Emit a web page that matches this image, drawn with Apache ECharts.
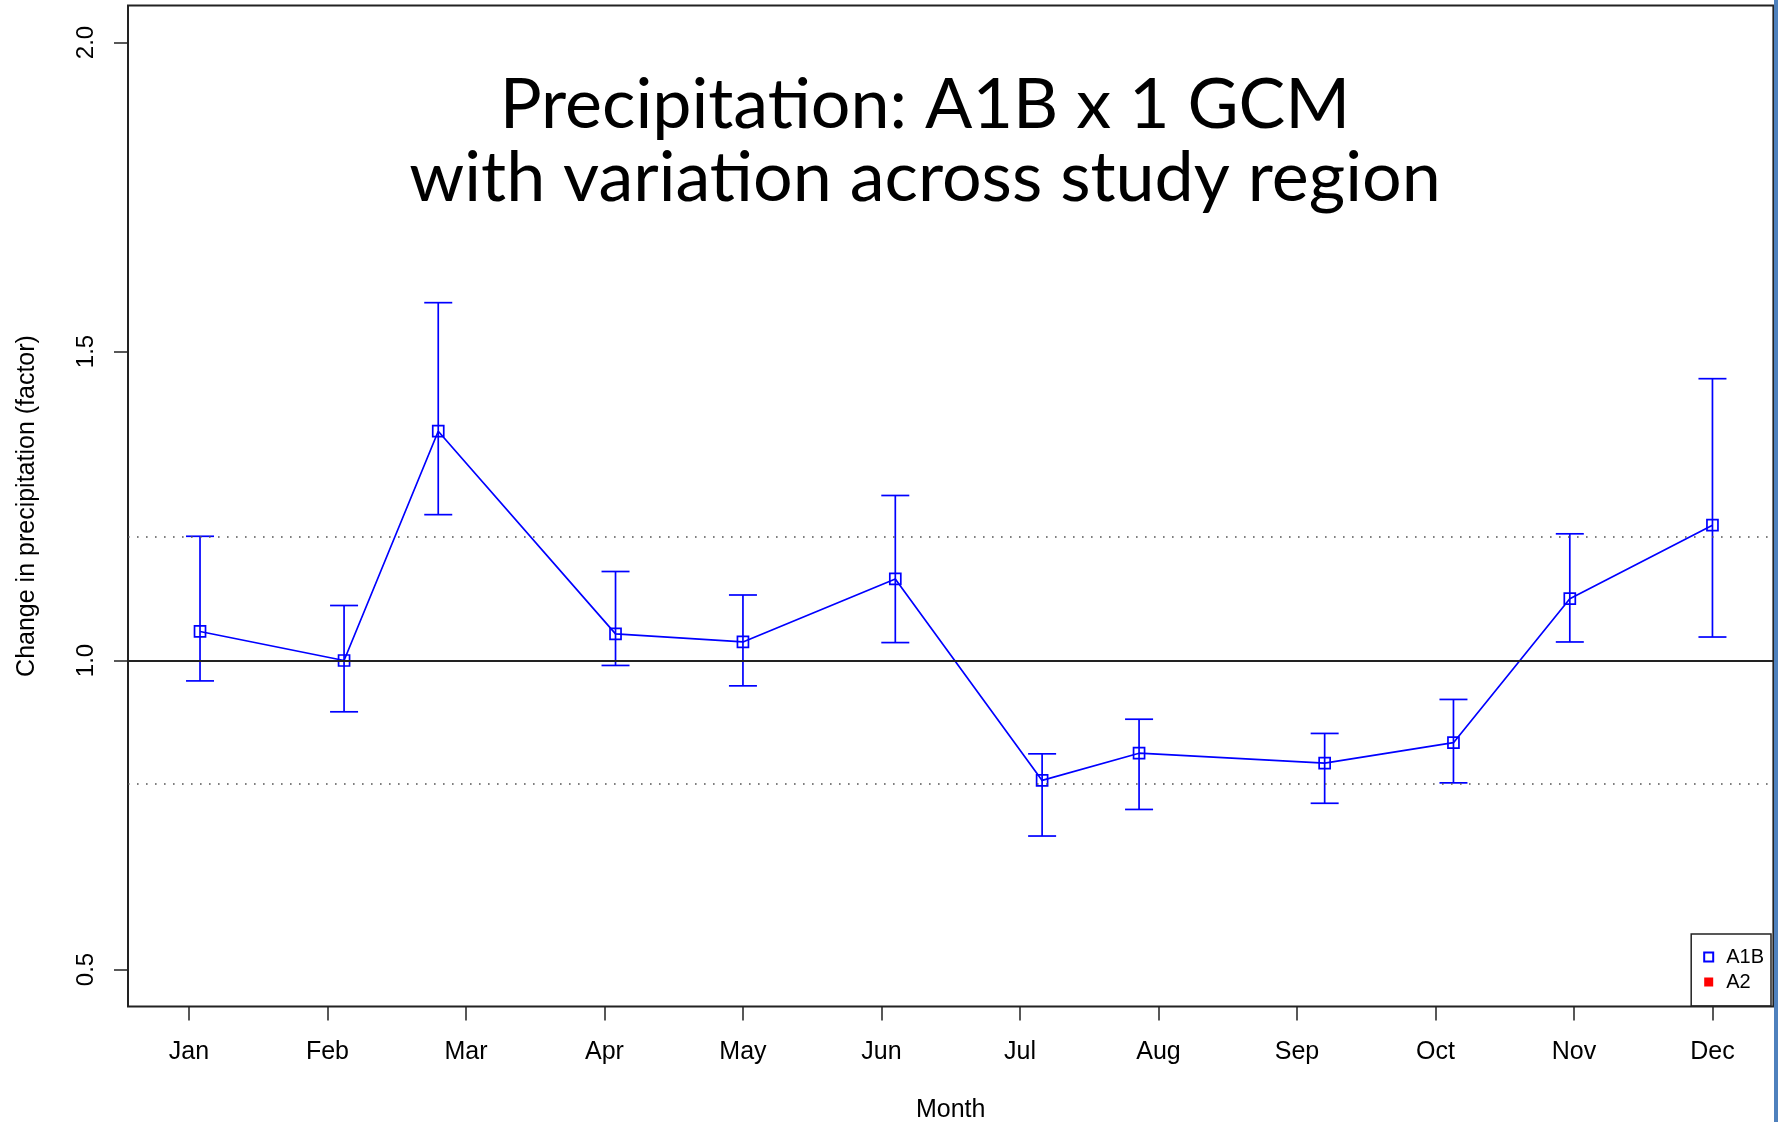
<!DOCTYPE html>
<html>
<head>
<meta charset="utf-8">
<script src="https://cdn.jsdelivr.net/npm/echarts@6/dist/echarts.min.js"></script>
<style>
html,body{margin:0;padding:0;background:#fff;}
#chart{width:1778px;height:1122px;}
</style>
</head>
<body>
<div id="chart"></div>
<script>
// ---- data ----
var monthLabels = ['Jan','Feb','Mar','Apr','May','Jun','Jul','Aug','Sep','Oct','Nov','Dec'];
var monthTicks = [1,2,3,4,5,6,7,8,9,10,11,12];
var xPos   = [1.08, 2.12, 2.80, 4.08, 5.00, 6.10, 7.16, 7.86, 9.20, 10.13, 10.97, 12.00];
var a1bMean = [1.047, 1.000, 1.371, 1.043, 1.030, 1.132, 0.806, 0.850, 0.834, 0.867, 1.100, 1.219];
var a1bLow  = [0.967, 0.917, 1.236, 0.992, 0.959, 1.029, 0.716, 0.759, 0.769, 0.802, 1.030, 1.038];
var a1bHigh = [1.201, 1.089, 1.579, 1.144, 1.106, 1.267, 0.849, 0.905, 0.882, 0.937, 1.205, 1.456];
var yTicks = [0.5, 1.0, 1.5, 2.0];
var refSolid = 1.0;
var refDotted = [1.2, 0.8];
var titleText = 'Precipitation: A1B x 1 GCM\nwith variation across study region';
var xName = 'Month';
var yName = 'Change in precipitation (factor)';

var BLUE = '#0000ff';

var meanData = xPos.map(function (x, i) { return [x, a1bMean[i]]; });
var barData = xPos.map(function (x, i) { return [x, a1bLow[i], a1bHigh[i]]; });

var chart = echarts.init(document.getElementById('chart'), null, {renderer: 'canvas'});

var option = {
  animation: false,
  backgroundColor: '#ffffff',
  title: {
    text: titleText,
    left: 925,
    top: 69,
    textAlign: 'center',
    padding: 0,
    textStyle: {
      fontFamily: 'Lato',
      fontWeight: 'normal',
      fontSize: 70,
      lineHeight: 73,
      color: '#000'
    }
  },
  legend: {
    orient: 'vertical',
    right: 7,
    bottom: 116,
    data: [
      {name: 'A1B', icon: 'rect', itemStyle: {color: '#ffffff', borderColor: BLUE, borderWidth: 2}},
      {name: 'A2', icon: 'rect', itemStyle: {color: '#ff0000', borderWidth: 0}}
    ],
    itemWidth: 9,
    itemHeight: 9,
    itemGap: 5,
    borderColor: '#222',
    borderWidth: 1.5,
    borderRadius: 0,
    padding: [13, 7, 14, 12],
    selectedMode: false,
    textStyle: {
      fontFamily: 'Liberation Sans',
      fontSize: 20,
      lineHeight: 19,
      color: '#000',
      padding: [0, 0, 0, 8]
    }
  },
  grid: {
    show: true,
    left: 128,
    top: 5.4,
    width: 1645.4,
    height: 1001.2,
    borderColor: '#222',
    borderWidth: 2,
    backgroundColor: 'transparent',
    containLabel: false,
    outerBoundsMode: 'none'
  },
  xAxis: {
    type: 'value',
    min: 0.56,
    max: 12.44,
    name: xName,
    nameLocation: 'middle',
    nameGap: 91,
    nameTextStyle: {fontFamily: 'Liberation Sans', fontSize: 25, color: '#000'},
    axisLine: {show: false},
    splitLine: {show: false},
    axisTick: {show: true, inside: false, length: 14, customValues: monthTicks, lineStyle: {color: '#222', width: 1.5}},
    axisLabel: {
      customValues: monthTicks,
      margin: 33,
      fontFamily: 'Liberation Sans',
      fontSize: 25,
      color: '#000',
      formatter: function (v) { return monthLabels[Math.round(v) - 1] || ''; }
    }
  },
  yAxis: {
    type: 'value',
    min: 0.44,
    max: 2.06,
    name: yName,
    nameLocation: 'middle',
    nameGap: 88,
    nameRotate: 90,
    nameTextStyle: {fontFamily: 'Liberation Sans', fontSize: 25, color: '#000'},
    axisLine: {show: false},
    splitLine: {show: false},
    axisTick: {show: true, inside: false, length: 14, customValues: yTicks, lineStyle: {color: '#222', width: 1.5}},
    axisLabel: {
      customValues: yTicks,
      rotate: 90,
      margin: 30,
      fontFamily: 'Liberation Sans',
      fontSize: 24,
      color: '#000',
      formatter: function (v) { return v.toFixed(1); }
    }
  },
  series: [
    {
      name: 'ref',
      type: 'line',
      data: [],
      silent: true,
      z: 1,
      markLine: {
        silent: true,
        symbol: 'none',
        label: {show: false},
        emphasis: {disabled: true},
        data: [
          {yAxis: refSolid, lineStyle: {color: '#222', width: 2, type: 'solid'}},
          {yAxis: refDotted[0], lineStyle: {color: '#555', width: 1.6, type: [1.6, 7.4]}},
          {yAxis: refDotted[1], lineStyle: {color: '#555', width: 1.6, type: [1.6, 7.4]}}
        ]
      }
    },
    {
      name: 'errorbars',
      type: 'custom',
      z: 3,
      silent: true,
      data: barData,
      encode: {x: 0, y: [1, 2]},
      renderItem: function (params, api) {
        var x = api.value(0);
        var lo = api.coord([x, api.value(1)]);
        var hi = api.coord([x, api.value(2)]);
        var hw = 14;
        var st = {stroke: BLUE, lineWidth: 1.7};
        return {
          type: 'group',
          children: [
            {type: 'line', shape: {x1: lo[0], y1: lo[1], x2: hi[0], y2: hi[1]}, style: st},
            {type: 'line', shape: {x1: hi[0] - hw, y1: hi[1], x2: hi[0] + hw, y2: hi[1]}, style: st},
            {type: 'line', shape: {x1: lo[0] - hw, y1: lo[1], x2: lo[0] + hw, y2: lo[1]}, style: st}
          ]
        };
      }
    },
    {
      name: 'A1B',
      type: 'line',
      z: 4,
      data: meanData,
      symbol: 'rect',
      symbolSize: 11,
      showSymbol: true,
      showAllSymbol: true,
      color: BLUE,
      itemStyle: {color: 'rgba(0,0,0,0)', borderColor: BLUE, borderWidth: 1.7},
      lineStyle: {color: BLUE, width: 1.7},
      emphasis: {disabled: true}
    },
    {
      name: 'A2',
      type: 'line',
      data: [],
      color: '#ff0000',
      symbol: 'rect'
    }
  ],
  graphic: [
    {
      type: 'rect',
      shape: {x: 1774, y: 0, width: 4, height: 1122},
      style: {fill: '#4f81bd'},
      silent: true
    }
  ]
};
chart.setOption(option);
</script>
</body>
</html>
